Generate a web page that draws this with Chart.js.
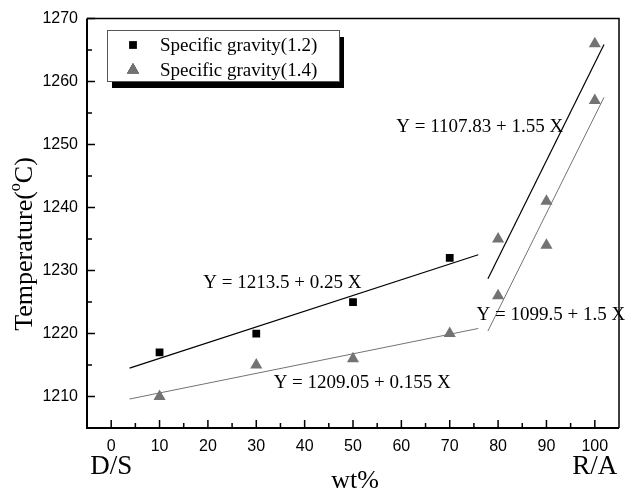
<!DOCTYPE html>
<html><head><meta charset="utf-8">
<script src="https://cdn.jsdelivr.net/npm/chart.js@4.4.0/dist/chart.umd.min.js"></script>
<style>html,body{margin:0;padding:0;background:#fff}#wrap{width:626px;height:491px}</style>
</head><body><div id="wrap"><canvas id="c" width="626" height="491"></canvas></div>
<script>
// ---- data ----
const xTickValues = [0,10,20,30,40,50,60,70,80,90,100];
const xMinorTicks = [5,15,25,35,45,55,65,75,85,95];
const yTickValues = [1210,1220,1230,1240,1250,1260,1270];
const yMinorTicks = [1215,1225,1235,1245,1255,1265];

const seriesNames = ['Specific gravity(1.2)', 'Specific gravity(1.4)'];
const sg12X = [10,30,50,70];
const sg12Y = [1217,1220,1225,1232];
const sg14X = [10,30,50,70,80,80,90,90,100,100];
const sg14Y = [1210,1215,1216,1220,1235,1226,1241,1234,1266,1257];

// fitted lines (end points as drawn)
const fitAX = [3.8, 75.9], fitAY = [1214.5, 1232.5];
const fitBX = [3.8, 75.9], fitBY = [1209.6, 1220.8];
const fitCX = [77.9, 101.9], fitCY = [1228.7, 1265.9];
const fitDX = [77.9, 101.9], fitDY = [1220.4, 1257.5];

const equations = ['Y = 1213.5 + 0.25 X','Y = 1209.05 + 0.155 X','Y = 1107.83 + 1.55 X','Y = 1099.5 + 1.5 X'];
const eqAnchorX = [35.4, 51.9, 76.2, 90.9];
const eqAnchorY = [1228.0, 1212.2, 1252.8, 1223.0];

const xEndLabels = ['D/S','R/A'];
const xEndAt = [0,100];
const xTitle = 'wt%';
const yTitle = ['Temperature(','o','C)'];

const pts = (xs, ys) => xs.map((x,i)=>({x, y: ys[i]}));
const GRAY = '#737373';
const SERIF = '"Liberation Serif","Times New Roman",serif';
const SANS = '"Liberation Sans",Arial,sans-serif';

const extras = {
  id: 'extras',
  afterDatasetsDraw(chart) {
    const ctx = chart.ctx, xs = chart.scales.x, ys = chart.scales.y, a = chart.chartArea;
    ctx.save();
    // frame
    ctx.strokeStyle = '#000';
    ctx.lineWidth = 1.5;
    ctx.beginPath(); ctx.moveTo(a.left, a.top); ctx.lineTo(a.right, a.top); ctx.lineTo(a.right, a.bottom); ctx.stroke();
    ctx.lineWidth = 2;
    ctx.beginPath(); ctx.moveTo(a.left, a.top); ctx.lineTo(a.left, a.bottom); ctx.lineTo(a.right, a.bottom); ctx.stroke();
    // inward ticks
    ctx.lineWidth = 1.5;
    ctx.beginPath();
    xTickValues.forEach(v=>{const p=xs.getPixelForValue(v); ctx.moveTo(p,a.bottom); ctx.lineTo(p,a.bottom-8);});
    xMinorTicks.forEach(v=>{const p=xs.getPixelForValue(v); ctx.moveTo(p,a.bottom); ctx.lineTo(p,a.bottom-5);});
    yTickValues.forEach(v=>{const p=ys.getPixelForValue(v); ctx.moveTo(a.left,p); ctx.lineTo(a.left+8,p);});
    yMinorTicks.forEach(v=>{const p=ys.getPixelForValue(v); ctx.moveTo(a.left,p); ctx.lineTo(a.left+5,p);});
    ctx.stroke();

    // equations
    ctx.fillStyle = '#000';
    ctx.font = '19px ' + SERIF;
    ctx.textAlign = 'center'; ctx.textBaseline = 'middle';
    equations.forEach((t,i)=>ctx.fillText(t, xs.getPixelForValue(eqAnchorX[i]), ys.getPixelForValue(eqAnchorY[i])));

    // D/S and R/A
    ctx.font = '27px ' + SERIF;
    xEndLabels.forEach((t,i)=>ctx.fillText(t, xs.getPixelForValue(xEndAt[i]), 467));
    // x title
    ctx.font = '26px ' + SERIF;
    ctx.fillText(xTitle, (a.left + a.right) / 2 + 2, 481);
    // y title with superscript
    ctx.save();
    ctx.translate(25, 244); ctx.rotate(-Math.PI/2);
    ctx.textAlign = 'left';
    ctx.font = '26px ' + SERIF;
    const w1 = ctx.measureText(yTitle[0]).width, w3 = ctx.measureText(yTitle[2]).width;
    ctx.font = '16px ' + SERIF;
    const w2 = ctx.measureText(yTitle[1]).width;
    let x0 = -(w1+w2+w3)/2;
    ctx.font = '26px ' + SERIF; ctx.fillText(yTitle[0], x0, 0);
    ctx.font = '16px ' + SERIF; ctx.fillText(yTitle[1], x0+w1, -9);
    ctx.font = '26px ' + SERIF; ctx.fillText(yTitle[2], x0+w1+w2, 0);
    ctx.restore();

    // legend with shadow
    const L = {x:107, y:30, w:232, h:51};
    ctx.fillStyle = '#000';
    ctx.fillRect(L.x+5, L.y+7, L.w, L.h);
    ctx.fillStyle = '#fff';
    ctx.fillRect(L.x, L.y, L.w, L.h);
    ctx.strokeStyle = '#555'; ctx.lineWidth = 1;
    ctx.strokeRect(L.x+0.5, L.y+0.5, L.w, L.h);
    const ds = chart.data.datasets;
    [0,1].forEach(i=>{
      const cy = L.y + 15 + i*25;
      const d = ds[i];
      Chart.helpers.drawPoint(ctx, {pointStyle: d.pointStyle, radius: d.pointRadius, rotation: 0, borderWidth: 0}, L.x+26, cy);
      ctx.fillStyle = d.backgroundColor; ctx.fill();
      ctx.fillStyle = '#000';
      ctx.font = '19px ' + SERIF; ctx.textAlign = 'left'; ctx.textBaseline = 'middle';
      ctx.fillText(d.label, L.x+53, cy+1);
    });
    ctx.restore();
  }
};

const lineDs = (xs, ys, color, w) => ({type:'line', data: pts(xs, ys), borderColor: color, borderWidth: w, pointRadius: 0, showLine: true, fill: false, order: 2});

new Chart(document.getElementById('c'), {
  type: 'scatter',
  data: {
    datasets: [
      {label: seriesNames[0], data: pts(sg12X, sg12Y), pointStyle: 'rect', pointRadius: 5.5, backgroundColor: '#000', borderColor: '#000', borderWidth: 0, order: 1},
      {label: seriesNames[1], data: pts(sg14X, sg14Y), pointStyle: 'triangle', pointRadius: 7, backgroundColor: GRAY, borderColor: GRAY, borderWidth: 0, order: 1},
      lineDs(fitAX, fitAY, '#000', 1.2),
      lineDs(fitBX, fitBY, GRAY, 1),
      lineDs(fitCX, fitCY, '#000', 1.2),
      lineDs(fitDX, fitDY, GRAY, 1)
    ]
  },
  options: {
    responsive: false, animation: false, devicePixelRatio: 1,
    layout: {padding: {top: 17, right: 1, left: 0, bottom: 0}},
    plugins: {legend: {display: false}, tooltip: {enabled: false}},
    scales: {
      x: {type: 'linear', min: -5, max: 105,
        afterBuildTicks: s => { s.ticks = xTickValues.map(v=>({value:v})); },
        afterFit: s => { s.height = 63; },
        grid: {display: false, drawTicks: false}, border: {display: false},
        ticks: {padding: 9, color: '#000', font: {family: SANS, size: 16}, callback: v => String(v)}},
      y: {type: 'linear', min: 1205, max: 1270,
        afterBuildTicks: s => { s.ticks = yTickValues.map(v=>({value:v})); },
        afterFit: s => { s.width = 87; },
        grid: {display: false, drawTicks: false}, border: {display: false},
        ticks: {padding: 9, color: '#000', font: {family: SANS, size: 16}, callback: v => String(v)}}
    }
  },
  plugins: [extras]
});
</script></body></html>
